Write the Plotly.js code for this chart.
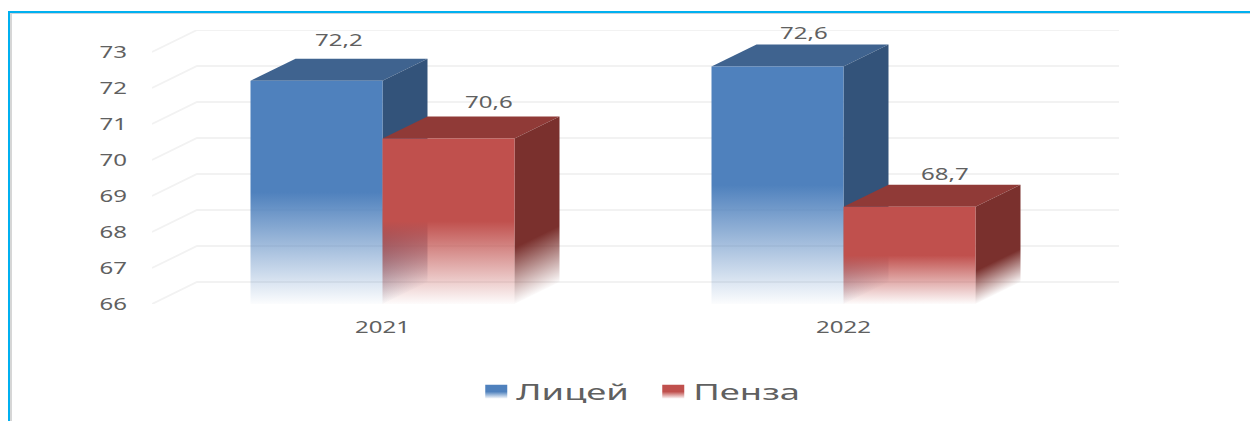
<!DOCTYPE html>
<html>
<head>
<meta charset="utf-8">
<script src="https://cdn.plot.ly/plotly-3.0.1.min.js"></script>
<style>
html,body{margin:0;padding:0;background:#fff;width:1250px;height:421px;overflow:hidden}
#chart{position:absolute;left:0;top:0;width:1250px;height:421px}
#frame{position:absolute;left:8px;top:11px;right:0;bottom:0;border-left:2.5px solid #00b0f0;border-top:2px solid #00b0f0;pointer-events:none}
#frame div{position:absolute;left:0;top:0;right:0;bottom:0;border-left:2px solid #d6d6d6;border-top:1.5px solid #c9d3da}
</style>
</head>
<body>
<div id="chart"></div>
<div id="frame"><div></div></div>
<script>
const categories = ['2021', '2022'];
const seriesNames = ['Лицей', 'Пенза'];
const liceum = [72.2, 72.6];
const penza = [70.6, 68.7];
const liceumLabels = ['72,2', '72,6'];
const penzaLabels = ['70,6', '68,7'];
const yTicks = [66, 67, 68, 69, 70, 71, 72, 73];

const baseValue = 66;
const depthX = 45 / 461;
const depthY = 22 / 36;
const barW = 132 / 461;
const labelShiftX = [[0, 4], [18, 13]];
const labelShiftY = [[19, 11], [14, 11]];
const palette = [
  {front: '#4f81bd', top: '#3f638f', side: '#33537a'},
  {front: '#c0504d', top: '#903a37', side: '#7a302d'}
];
const series = [liceum, penza];
const labels = [liceumLabels, penzaLabels];
const xs = categories.map((_, i) => i);

const shapes = [];
yTicks.forEach(t => {
  const path = `M -0.5 ${t} L ${-0.5 + depthX} ${t + depthY} L ${1.5 + depthX} ${t + depthY}`;
  shapes.push({type: 'path', xref: 'x', yref: 'y', layer: 'below', path: path,
    line: {color: '#f2f2f2', width: 1.8}});
});

const sideFaces = [];
series.forEach((vals, s) => {
  vals.forEach((v, i) => {
    const x0 = i - barW + s * barW, x1 = x0 + barW;
    shapes.push({type: 'path', xref: 'x', yref: 'y', layer: 'below',
      path: `M ${x0} ${v} L ${x0 + depthX} ${v + depthY} L ${x1 + depthX} ${v + depthY} L ${x1} ${v} Z`,
      fillcolor: palette[s].top, line: {width: 0}});
    sideFaces.push({index: shapes.length, s: s, x: x1, v: v});
    shapes.push({type: 'path', xref: 'x', yref: 'y', layer: 'below',
      path: `M ${x1} ${v} L ${x1 + depthX} ${v + depthY} L ${x1 + depthX} ${baseValue + depthY} L ${x1} ${baseValue} Z`,
      fillcolor: palette[s].side, line: {width: 0}});
  });
});

const traces = series.map((vals, s) => ({
  type: 'bar',
  name: seriesNames[s],
  x: xs,
  y: vals.map(v => v - baseValue),
  base: baseValue,
  marker: {color: palette[s].front, line: {width: 0}},
  hovertemplate: '%{x}: %{customdata}<extra>' + seriesNames[s] + '</extra>',
  customdata: labels[s]
}));

const annotations = [];
series.forEach((vals, s) => {
  vals.forEach((v, i) => {
    annotations.push({
      x: i - barW + s * barW + barW / 2 + depthX / 2,
      y: v + depthY,
      xref: 'x', yref: 'y',
      text: labels[s][i],
      showarrow: false,
      xanchor: 'center', yanchor: 'middle',
      xshift: labelShiftX[s][i],
      yshift: labelShiftY[s][i],
      font: {family: '"Noto Sans", sans-serif', size: 16, color: '#606060'}
    });
  });
});

const layout = {
  width: 1250, height: 421,
  margin: {l: 152, r: 131, t: 30, b: 117, pad: 0, autoexpand: false},
  paper_bgcolor: '#fff', plot_bgcolor: 'rgba(0,0,0,0)',
  barmode: 'group', bargap: 1 - 2 * barW, bargroupgap: 0,
  showlegend: true,
  legend: {orientation: 'h', xref: 'container', yref: 'container', x: 0.381, y: 0.119,
    xanchor: 'left', yanchor: 'top',
    entrywidth: 132, entrywidthmode: 'pixels', traceorder: 'normal',
    font: {family: '"Noto Sans", sans-serif', size: 22, color: '#606060'}},
  xaxis: {range: [-0.5, 1.5 + depthX], tickvals: xs, ticktext: categories,
    showgrid: false, zeroline: false, showline: false, ticks: '', ticklabelstandoff: 12,
    tickfont: {family: '"Noto Sans", sans-serif', size: 16, color: '#606060'}},
  yaxis: {range: [baseValue, 73 + depthY], tickvals: yTicks, ticktext: yTicks.map(String),
    showgrid: false, zeroline: false, showline: false, ticks: '', ticklabelstandoff: 24,
    tickfont: {family: '"Noto Sans", sans-serif', size: 16, color: '#606060'}},
  shapes: shapes,
  annotations: annotations
};

const NS = 'http://www.w3.org/2000/svg';
function gradient(defs, id, color, solidUntil, attrs) {
  const g = document.createElementNS(NS, 'linearGradient');
  g.setAttribute('id', id);
  Object.keys(attrs).forEach(k => g.setAttribute(k, attrs[k]));
  [[0, 1], [solidUntil, 1], [1, 0.02]].forEach(p => {
    const st = document.createElementNS(NS, 'stop');
    st.setAttribute('offset', p[0]);
    st.setAttribute('stop-color', color);
    st.setAttribute('stop-opacity', p[1]);
    g.appendChild(st);
  });
  defs.appendChild(g);
}
function stretch(gd, sel, f) {
  gd.querySelectorAll(sel).forEach(t => {
    const w = t.getComputedTextLength();
    t.setAttribute('textLength', w * f);
    t.setAttribute('lengthAdjust', 'spacingAndGlyphs');
  });
}

Plotly.newPlot('chart', traces, layout, {displayModeBar: false}).then(gd => {
  const svg = gd.querySelector('.main-svg');
  const defs = document.createElementNS(NS, 'defs');
  svg.insertBefore(defs, svg.firstChild);
  palette.forEach((p, s) => {
    gradient(defs, 'front' + s, p.front, 0.5, {x1: 0, y1: 0, x2: 0, y2: 1});
  });
  gd.querySelectorAll('.barlayer .trace').forEach((tr, s) => {
    tr.querySelectorAll('.point path').forEach(p => { p.style.fill = `url(#front${s})`; });
  });
  gd.querySelectorAll('.legend .traces').forEach((tr, s) => {
    const p = tr.querySelector('.legendbar, .legendpoints path');
    if (p) {
      p.setAttribute('d', 'M11,7H-11V-7H11Z');
      p.style.fill = `url(#front${s})`;
    }
  });
  const xa = gd._fullLayout.xaxis, ya = gd._fullLayout.yaxis;
  sideFaces.forEach((f, k) => {
    const px = xa._offset + xa.d2p(f.x);
    const yStart = ya._offset + ya.d2p(f.v);
    const yEnd = ya._offset + ya.d2p(baseValue);
    const h = yEnd - yStart, dx = 45, dy = 22, n2 = dx * dx + dy * dy;
    const id = 'side' + k;
    gradient(defs, id, palette[f.s].side, 0.66, {
      gradientUnits: 'userSpaceOnUse',
      x1: px, y1: yStart,
      x2: px + h * dy * dx / n2,
      y2: yStart + h * dx * dx / n2
    });
    const el = gd.querySelector(`.shapelayer path[data-index="${f.index}"]`);
    if (el) el.style.fill = `url(#${id})`;
  });
  stretch(gd, '.ytick text', 1.5);
  stretch(gd, '.xtick text', 1.5);
  stretch(gd, '.annotation-text', 1.5);
  stretch(gd, '.legendtext', 1.65);
});
</script>
</body>
</html>
